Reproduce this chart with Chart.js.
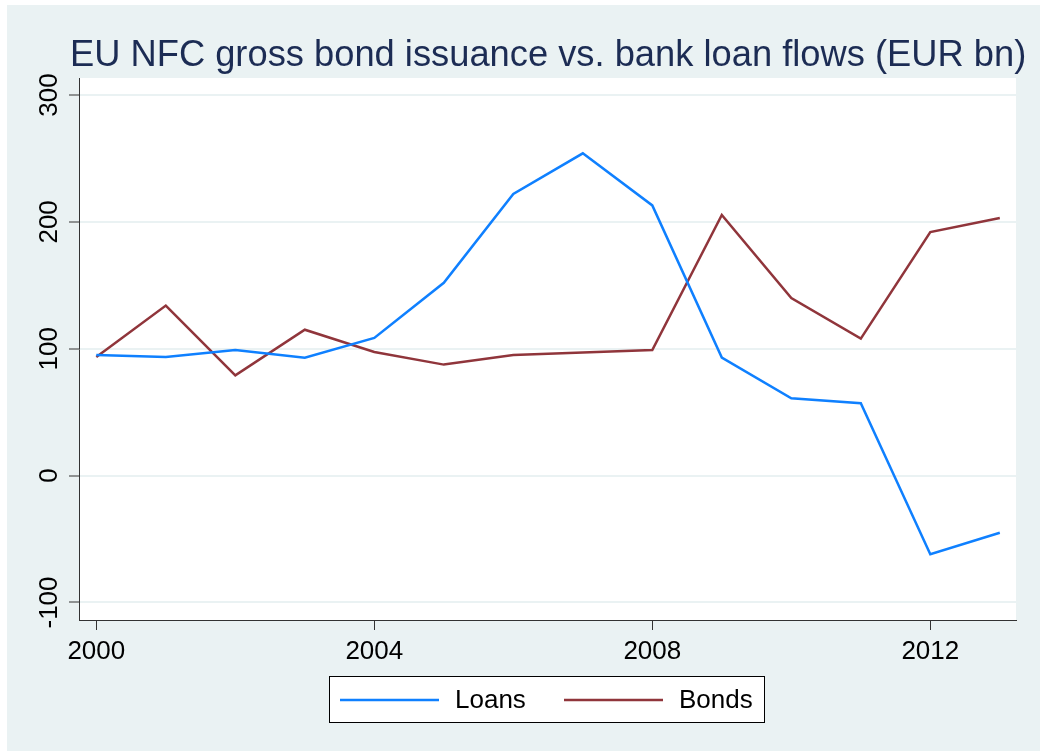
<!DOCTYPE html>
<html>
<head>
<meta charset="utf-8">
<script src="https://cdn.jsdelivr.net/npm/chart.js@4.4.1/dist/chart.umd.min.js"></script>
<style>
  html, body { margin: 0; padding: 0; background: #fff; }
  #wrap { width: 1040px; height: 751px; }
</style>
</head>
<body>
<div id="wrap"><canvas id="flows-chart" width="1040" height="751"></canvas></div>
<script>
// EU NFC bond issuance vs bank loan flows, EUR bn
const years = [2000, 2001, 2002, 2003, 2004, 2005, 2006, 2007, 2008, 2009, 2010, 2011, 2012, 2013];
const loans = [95, 93.5, 99, 93, 108.5, 152, 222, 254, 213, 93, 61, 57, -62, -45];
const bonds = [93.5, 134, 79, 115, 97.5, 87.5, 95, 97, 99, 205.5, 140, 108, 192, 203];
const xTicks = [2000, 2004, 2008, 2012];
const yTicks = [-100, 0, 100, 200, 300];
const seriesNames = ['Loans', 'Bonds'];
const seriesColors = ['#0f80ff', '#90353b'];
const titleText = 'EU NFC gross bond issuance vs. bank loan flows (EUR bn)';

const FONT = "'Liberation Sans', Arial, sans-serif";
const BG = '#eaf2f3';

// stata-ish backdrop: light outer panel, white plot region
const backdrop = {
    id: 'backdrop',
    beforeDraw(chart) {
        const ctx = chart.ctx, a = chart.chartArea;
        ctx.save();
        ctx.fillStyle = '#ffffff';
        ctx.fillRect(0, 0, chart.width, chart.height);
        ctx.fillStyle = BG;
        ctx.fillRect(7, 5, chart.width - 7, chart.height - 5);
        ctx.fillStyle = '#ffffff';
        ctx.fillRect(a.left, a.top, a.right - a.left, a.bottom - a.top);
        ctx.restore();
    }
};

// title runs past the plot's right edge, so it is drawn here (built-in one gets squeezed)
const wideTitle = {
    id: 'wideTitle',
    afterDraw(chart) {
        const ctx = chart.ctx;
        ctx.save();
        ctx.font = '36.3px ' + FONT;
        ctx.fillStyle = '#1c2c54';
        ctx.textAlign = 'left';
        ctx.textBaseline = 'alphabetic';
        ctx.fillText(titleText, 70, 66);
        ctx.restore();
    }
};

// y tick labels turned 90 degrees, read bottom to top
const rotatedYLabels = {
    id: 'rotatedYLabels',
    afterDraw(chart) {
        const ctx = chart.ctx, ys = chart.scales.y;
        ctx.save();
        ctx.font = '26px ' + FONT;
        ctx.fillStyle = '#000000';
        ctx.textAlign = 'center';
        ctx.textBaseline = 'middle';
        ys.ticks.forEach(t => {
            const py = ys.getPixelForValue(t.value);
            ctx.save();
            ctx.translate(50, py);
            ctx.rotate(-Math.PI / 2);
            ctx.fillText(String(t.value), 0, 0);
            ctx.restore();
        });
        ctx.restore();
    }
};

// boxed legend under the x axis
const boxLegend = {
    id: 'boxLegend',
    afterDraw(chart) {
        const ctx = chart.ctx;
        const left = 329.5, top = 676.5, w = 435, h = 46;
        ctx.save();
        ctx.fillStyle = '#ffffff';
        ctx.fillRect(left, top, w, h);
        ctx.strokeStyle = '#000000';
        ctx.lineWidth = 1;
        ctx.strokeRect(left, top, w, h);
        ctx.font = '26px ' + FONT;
        ctx.textBaseline = 'middle';
        ctx.textAlign = 'left';
        const starts = [340, 564];
        chart.data.datasets.forEach((ds, i) => {
            const x0 = starts[i];
            ctx.strokeStyle = ds.borderColor;
            ctx.lineWidth = 2.5;
            ctx.beginPath();
            ctx.moveTo(x0, 700);
            ctx.lineTo(x0 + 99, 700);
            ctx.stroke();
            ctx.fillStyle = '#000000';
            ctx.fillText(ds.label, x0 + 115, 701);
        });
        ctx.restore();
    }
};

new Chart(document.getElementById('flows-chart'), {
    type: 'line',
    data: {
        datasets: [
            {
                label: seriesNames[0],
                data: years.map((y, i) => ({ x: y, y: loans[i] })),
                borderColor: seriesColors[0],
                backgroundColor: seriesColors[0],
                borderWidth: 2.5,
                pointRadius: 0,
                tension: 0
            },
            {
                label: seriesNames[1],
                data: years.map((y, i) => ({ x: y, y: bonds[i] })),
                borderColor: seriesColors[1],
                backgroundColor: seriesColors[1],
                borderWidth: 2.5,
                pointRadius: 0,
                tension: 0
            }
        ]
    },
    options: {
        responsive: false,
        animation: false,
        devicePixelRatio: 1,
        layout: { padding: { left: 70, right: 24, top: 78, bottom: 0 } },
        plugins: {
            legend: { display: false },
            tooltip: { enabled: false },
            title: { display: false }
        },
        scales: {
            x: {
                type: 'linear',
                min: 1999.751,
                max: 2013.233,
                afterBuildTicks: s => { s.ticks = xTicks.map(v => ({ value: v })); },
                afterFit: s => { s.height = 131; s.paddingLeft = 0; s.paddingRight = 0; },
                grid: { drawOnChartArea: false, drawTicks: true, tickLength: 10, tickColor: '#333333', tickWidth: 1 },
                border: { display: true, color: '#333333', width: 1 },
                ticks: {
                    color: '#000000',
                    font: { family: FONT, size: 26 },
                    padding: 6,
                    maxRotation: 0,
                    autoSkip: false,
                    callback: v => String(v)
                }
            },
            y: {
                type: 'linear',
                min: -113.8,
                max: 313.4,
                afterBuildTicks: s => { s.ticks = yTicks.map(v => ({ value: v })); },
                afterFit: s => { s.width = 9; s.paddingTop = 0; s.paddingBottom = 0; },
                grid: { color: BG, lineWidth: 2, drawTicks: true, tickLength: 10, tickColor: '#333333', tickWidth: 1 },
                border: { display: true, color: '#333333', width: 1 },
                ticks: { display: false }
            }
        }
    },
    plugins: [backdrop, rotatedYLabels, boxLegend, wideTitle]
});
</script>
</body>
</html>
